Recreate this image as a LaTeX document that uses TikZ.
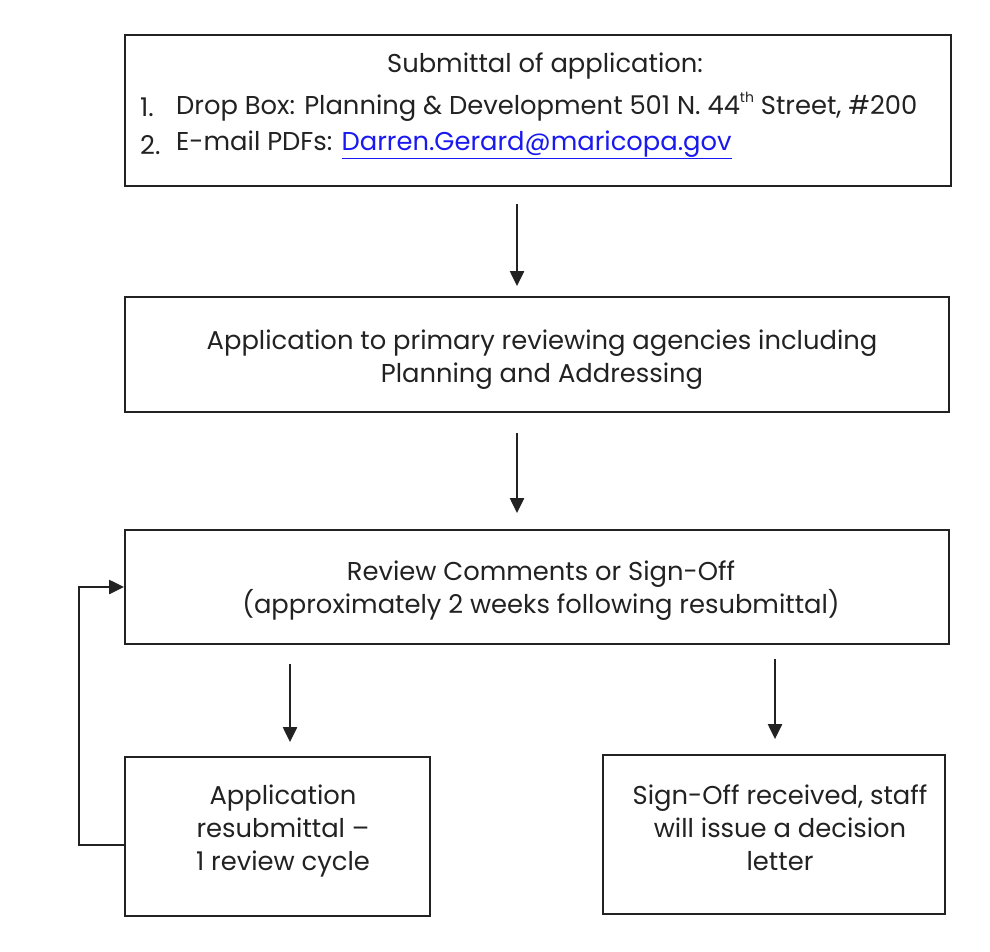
\documentclass[tikz,border=0pt]{standalone}
\usepackage{fontspec}
\setmainfont{Poppins}
\usetikzlibrary{arrows.meta,calc}
\definecolor{ink}{HTML}{222222}
\definecolor{linkblue}{HTML}{1A1AF0}
\newcommand{\smallsup}[1]{\raisebox{0.45em}{\fontsize{14}{14}\selectfont #1}}
\begin{document}
\begin{tikzpicture}[x=1pt,y=-1pt,
  box/.style={draw=ink,line width=1.8pt,rectangle,inner sep=0pt,text=ink,align=center},
  arr/.style={draw=ink,line width=2.2pt,-{Triangle[width=14pt,length=15pt]}},
  txt/.style={text=ink,inner sep=0pt,font=\fontsize{25.8}{33}\selectfont}]
\useasboundingbox (0,0) rectangle (990,952);
\fill[white] (0,0) rectangle (990,952);
% boxes
\node[box,minimum width=826pt,minimum height=151pt] (b1) at (538,110.5) {};
\node[box,minimum width=824pt,minimum height=115pt] (b2) at (537,354.5) {};
\node[box,minimum width=824pt,minimum height=114pt] (b3) at (537,587) {};
\node[box,minimum width=305pt,minimum height=159pt] (b4) at (277.5,836.5) {};
\node[box,minimum width=342pt,minimum height=159pt] (b5) at (774,834.5) {};
% texts
\node[txt] (t1a) at (545,66) {Submittal of application:};
\node[txt,anchor=west] (t1b) at (140,107) {1.};
\node[txt,anchor=west] (t1c) at (176,107) {Drop Box: Planning \& Development 501 N. 44\smallsup{th} Street, \#200};
\node[txt,anchor=west] (t1d) at (140,145) {2.};
\node[txt,anchor=west] (t1e) at (176,145) {E-mail PDFs: \textcolor{linkblue}{\underline{Darren.Gerard@maricopa.gov}}};
\node[txt,align=center] (t2) at (542,359.5) {Application to primary reviewing agencies including\\Planning and Addressing};
\node[txt,align=center] (t3) at (541,591) {Review Comments or Sign-Off\\(approximately 2 weeks following resubmittal)};
\node[txt,align=center] (t4) at (283,831) {Application\\resubmittal --\\1 review cycle};
\node[txt,align=center] (t5) at (780,828) {Sign-Off received, staff\\will issue a decision\\letter};
% arrow columns
\coordinate (x1) at (517,0);
\coordinate (x3) at (290,0);
\coordinate (x4) at (775,0);
\draw[arr,shorten <=17pt,shorten >=10pt] (x1 |- b1.south) -- (x1 |- b2.north);
\draw[arr,shorten <=20pt,shorten >=16pt] (x1 |- b2.south) -- (x1 |- b3.north);
\draw[arr,shorten <=19pt,shorten >=14pt] (x3 |- b3.south) -- (x3 |- b4.north);
\draw[arr,shorten <=14pt,shorten >=15pt] (x4 |- b3.south) -- (x4 |- b5.north);
% feedback loop
\coordinate (fb) at (79,845);
\draw[arr] (b4.west |- fb) -- (fb) |- (b3.west);
\end{tikzpicture}
\end{document}
